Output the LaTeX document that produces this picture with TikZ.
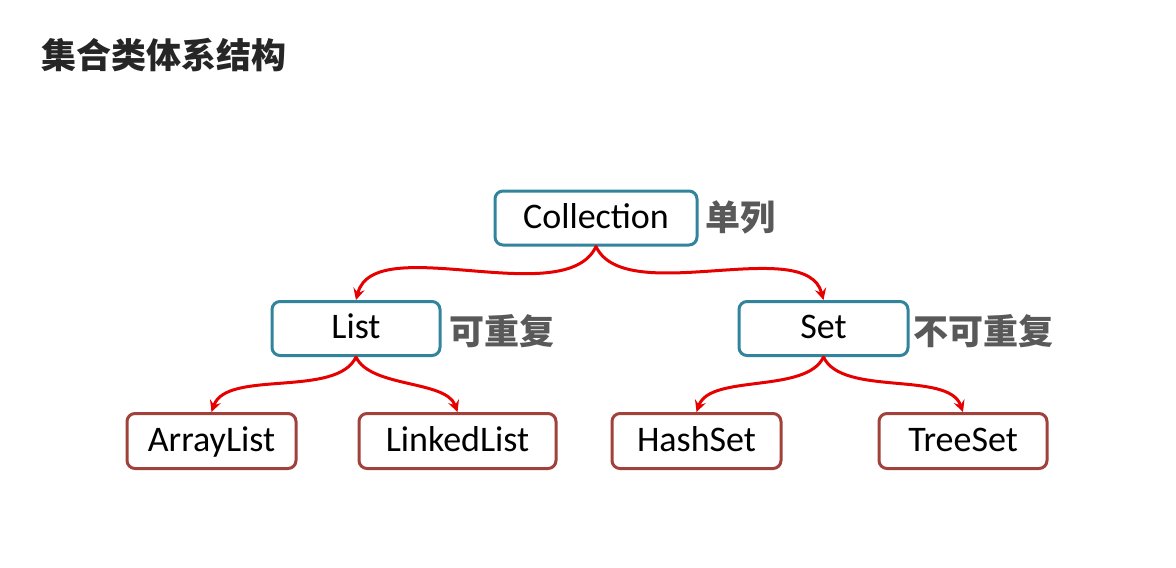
\documentclass[tikz,border=0pt]{standalone}
\usepackage{fontspec}
\setmainfont{Carlito}
\newfontfamily\cjk{Noto Sans CJK SC}
\definecolor{tealline}{HTML}{31849B}
\definecolor{brownline}{HTML}{A0413C}
\definecolor{arrred}{HTML}{E60000}
\definecolor{notegray}{HTML}{595959}
\definecolor{titlegray}{HTML}{262626}
\begin{document}
\begin{tikzpicture}[x=0.5pt,y=-0.5pt,>=stealth, line join=round, line cap=round,
    topbox/.style={draw=tealline, line width=1.5pt, rounded corners=4pt, fill=white,
        font=\fontsize{18}{20}\selectfont, minimum height=27pt, inner sep=0pt,
        text height=13pt, text depth=3pt},
    leafbox/.style={draw=brownline, line width=1.5pt, rounded corners=4pt, fill=white,
        font=\fontsize{18}{20}\selectfont, minimum height=27.5pt, inner sep=0pt,
        text height=13pt, text depth=3pt},
    note/.style={anchor=west, inner sep=0pt, text=notegray, font=\cjk\bfseries\fontsize{17.5}{20}\selectfont},
    arr/.style={->, draw=arrred, line width=1.5pt, looseness=0.75}]
    \useasboundingbox (0,0) rectangle (1176,567);

    \node[anchor=west, inner sep=0pt, text=titlegray, font=\cjk\bfseries\fontsize{17.5}{20}\selectfont] (title) at (41,55) {集合类体系结构};

    % top level
    \node[topbox, minimum width=101pt] (coll) at (596,218) {Collection};
    \node[note] (collnote) at (705,217) {单列};

    % second level
    \node[topbox, minimum width=84pt] (list) at (356,328.5) {List};
    \node[note] (listnote) at (449,331) {可重复};
    \node[topbox, minimum width=84.5pt] (set) at (823.5,328.5) {Set};
    \node[note] (setnote) at (913,331) {不可重复};

    % leaves
    \node[leafbox, minimum width=84.5pt] (alist) at (211.5,441) {ArrayList};
    \node[leafbox, minimum width=98.5pt] (llist) at (457.5,441) {LinkedList};
    \node[leafbox, minimum width=84.5pt] (hset) at (696.5,441) {HashSet};
    \node[leafbox, minimum width=84pt] (tset) at (963,441) {TreeSet};

    \draw[arr] (coll.south) to[out=-115,in=75] (list.north);
    \draw[arr] (coll.south) to[out=-65,in=105] (set.north);
    \draw[arr] (list.south) to[out=-115,in=70] (alist.north);
    \draw[arr] (list.south) to[out=-65,in=110] (llist.north);
    \draw[arr] (set.south) to[out=-115,in=70] (hset.north);
    \draw[arr] (set.south) to[out=-65,in=110] (tset.north);
\end{tikzpicture}
\end{document}
